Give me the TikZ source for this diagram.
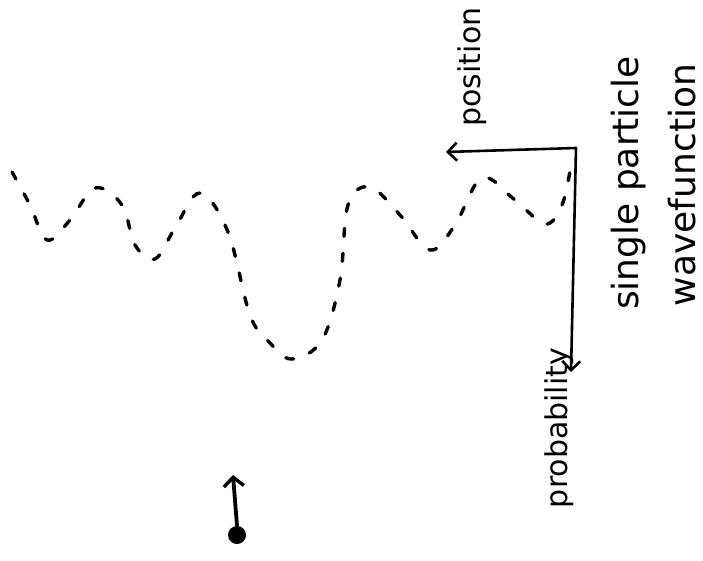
\documentclass[tikz,border=0pt]{standalone}
\usepackage{fontspec}
\setmainfont{DejaVu Sans}
\usetikzlibrary{arrows.meta}
\begin{document}
\begin{tikzpicture}[x=1pt,y=-1pt,
  axisline/.style={line width=2.6pt, line cap=round, line join=round,
    -{Straight Barb[length=9pt,width=18pt,line width=2.6pt]}},
  wavecurve/.style={line width=3.4pt, line cap=round, dash pattern=on 8pt off 17pt},
  rotlabel/.style={rotate=90, anchor=base, inner sep=0pt},
  spinarrow/.style={line width=3.8pt, line cap=round,
    -{Straight Barb[length=9pt,width=20pt,line width=3.4pt]}}]
  % canvas
  \fill[white] (0,0) rectangle (703,561);
  \useasboundingbox (0,0) rectangle (703,561);

  % axes of the plot
  \coordinate (corner) at (576,148);
  \coordinate (postip) at (446,152);
  \coordinate (probtip) at (571,372);
  \draw[axisline] (corner) -- (postip);
  \draw[axisline] (corner) -- (probtip);

  % axis labels and title
  \node[rotlabel, font=\fontsize{30}{30}\selectfont] (poslabel) at (480,67) {position};
  \node[rotlabel, font=\fontsize{30}{30}\selectfont] (problabel) at (567,428) {probability};
  \node[rotlabel, font=\fontsize{36}{36}\selectfont] (title1) at (638,183) {single particle};
  \node[rotlabel, font=\fontsize{36}{36}\selectfont] (title2) at (695,185) {wavefunction};

  % dashed wavefunction
  \draw[wavecurve] plot[smooth, tension=0.6] coordinates {
    (12,172) (30,205) (47,240) (70,220) (95,188) (122,205) (135,245)
    (155,259) (175,228) (200,193) (228,232) (250,315) (270,343)
    (292,359) (322,340) (340,280) (348,205) (370,187) (400,215)
    (430,250) (455,225) (482,178) (515,200) (545,224) (562,205) (571,165)};

  % particle with its spin arrow
  \node[circle, fill=black, minimum size=18pt, inner sep=0pt] (dot) at (237,535) {};
  \coordinate (spintip) at (233,475);
  \draw[spinarrow] (dot.north) -- (spintip);
\end{tikzpicture}
\end{document}
